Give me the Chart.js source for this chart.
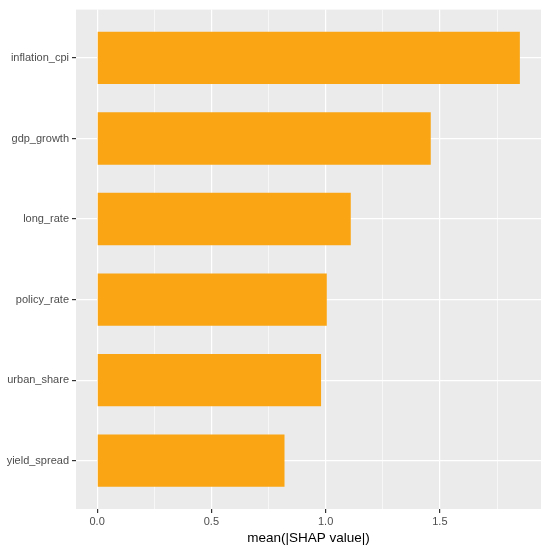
<!DOCTYPE html>
<html>
<head>
<meta charset="utf-8">
<script src="https://cdn.jsdelivr.net/npm/chart.js@4"></script>
<style>
  html, body { margin: 0; padding: 0; background: #ffffff; }
  #wrap { width: 550px; height: 550px; }
</style>
</head>
<body>
<div id="wrap"><canvas id="myChart" width="550" height="550"></canvas></div>
<script>
// features, top to bottom
const features = ['inflation_cpi', 'gdp_growth', 'long_rate', 'policy_rate', 'urban_share', 'yield_spread'];
const shap_values = [1.85, 1.46, 1.11, 1.005, 0.98, 0.82];
const x_ticks = [0, 0.25, 0.5, 0.75, 1, 1.25, 1.5, 1.75];

const ctx = document.getElementById('myChart');

// gray ggplot panel
const panel_bg = {
  id: 'panel_bg',
  beforeDraw: function(chart){
    const a = chart.chartArea;
    const c = chart.ctx;
    c.save();
    c.fillStyle = '#EBEBEB';
    c.fillRect(a.left, a.top, a.right - a.left, a.bottom - a.top);
    c.restore();
  }
};

function isMajor(v){
  return Math.abs(v * 2 - Math.round(v * 2)) < 1e-6;
}

const config = {
  type: 'bar',
  data: {
    datasets: [{
      data: features.map(function(f, i){ return {x: shap_values[i], y: i}; }),
      backgroundColor: '#FAA614',
      borderWidth: 0,
      categoryPercentage: 1,
      barPercentage: 0.65
    }]
  },
  plugins: [panel_bg],
  options: {
    indexAxis: 'y',
    responsive: false,
    animation: false,
    layout: { padding: { top: 6, right: 9, left: 0, bottom: 0 } },
    plugins: {
      legend: { display: false },
      tooltip: { enabled: false }
    },
    scales: {
      x: {
        type: 'linear',
        min: -0.0925,
        max: 1.9425,
        afterBuildTicks: function(s){ s.ticks = x_ticks.map(function(v){ return {value: v}; }); },
        afterFit: function(s){ s.height = 41; },
        border: { display: false },
        grid: {
          color: '#FFFFFF',
          lineWidth: function(c){ return isMajor(c.tick.value) ? 1.2 : 0.6; },
          tickColor: function(c){ return isMajor(c.tick.value) ? '#333333' : 'rgba(0,0,0,0)'; },
          tickLength: 4,
          drawTicks: true
        },
        ticks: {
          autoSkip: false,
          maxRotation: 0,
          padding: 2,
          color: '#4D4D4D',
          font: { family: 'Liberation Sans', size: 11 },
          callback: function(v){ return isMajor(v) ? v.toFixed(1) : ''; }
        },
        title: {
          display: true,
          text: 'mean(|SHAP value|)',
          color: '#000000',
          padding: { top: 0, bottom: 4 },
          font: { family: 'Liberation Sans', size: 13.5 }
        }
      },
      y: {
        type: 'linear',
        reverse: true,
        offset: false,
        min: -0.6,
        max: 5.6,
        afterBuildTicks: function(s){ s.ticks = features.map(function(f, i){ return {value: i}; }); },
        afterFit: function(s){ s.width = 76; },
        border: { display: false },
        grid: {
          offset: false,
          color: '#FFFFFF',
          lineWidth: 1.2,
          tickColor: '#333333',
          tickLength: 4
        },
        ticks: {
          autoSkip: false,
          padding: 3,
          color: '#4D4D4D',
          font: { family: 'Liberation Sans', size: 11 },
          callback: function(v){ return features[v]; }
        }
      }
    }
  }
};

let c2 = new Chart(ctx, config);
</script>
</body>
</html>
